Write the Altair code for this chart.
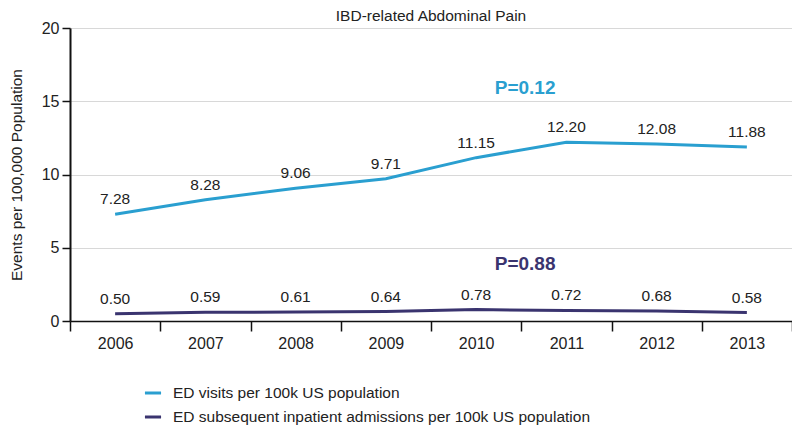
import altair as alt
import pandas as pd

years = ["2006", "2007", "2008", "2009", "2010", "2011", "2012", "2013"]
ed_visits = [7.28, 8.28, 9.06, 9.71, 11.15, 12.20, 12.08, 11.88]
inpatient = [0.50, 0.59, 0.61, 0.64, 0.78, 0.72, 0.68, 0.58]
series_names = ["ED visits per 100k US population",
                "ED subsequent inpatient admissions per 100k US population"]
colors = ["#2a9fd0", "#3a346f"]
p_labels = ["P=0.12", "P=0.88"]
p_years = ["2010", "2010"]
p_values = [15.9, 3.9]

rows = []
for y, v in zip(years, ed_visits):
    rows.append({"year": y, "value": v, "series": series_names[0], "label": f"{v:.2f}"})
for y, v in zip(years, inpatient):
    rows.append({"year": y, "value": v, "series": series_names[1], "label": f"{v:.2f}"})
df = pd.DataFrame(rows)

pdf = pd.DataFrame({"year": p_years, "value": p_values, "label": p_labels, "series": series_names})

FONT = "Liberation Sans"

x = alt.X("year:O", title=None, sort=years,
          scale=alt.Scale(paddingInner=0, paddingOuter=0),
          axis=alt.Axis(labelAngle=0, labelFontSize=16, labelFont=FONT, labelColor="#222",
                        tickBand="extent", tickSize=10, tickColor="#111", tickWidth=1.5,
                        domainColor="#111", domainWidth=1.5, labelPadding=4, grid=False))
y = alt.Y("value:Q", title="Events per 100,000 Population",
          scale=alt.Scale(domain=[0, 20], nice=False),
          axis=alt.Axis(values=[0, 5, 10, 15, 20], labelFontSize=16, labelFont=FONT,
                        labelColor="#222", titleFont=FONT, titleFontSize=15.5,
                        titleFontWeight="normal", titleColor="#222", titlePadding=17,
                        tickSize=8, tickColor="#111", tickWidth=1.5,
                        domainColor="#111", domainWidth=2, labelPadding=3,
                        grid=True, gridColor="#d8d8d8", gridWidth=1))

color = alt.Color("series:N", sort=series_names,
                  scale=alt.Scale(domain=series_names, range=colors),
                  legend=alt.Legend(title=None, orient="none", legendX=73, legendY=355,
                                    symbolType="stroke", symbolStrokeWidth=3,
                                    symbolSize=260, labelFontSize=15.5, labelFont=FONT,
                                    labelColor="#222", rowPadding=5, labelOffset=10,
                                    labelLimit=0))

lines = alt.Chart(df).mark_line(strokeWidth=3).encode(x=x, y=y, color=color)

labels = alt.Chart(df).mark_text(dy=-15, fontSize=15.5, font=FONT, color="#222").encode(
    x=alt.X("year:O", sort=years), y="value:Q", text="label:N")

ptext = alt.Chart(pdf).mark_text(dx=49, fontSize=19, font=FONT, fontWeight="bold").encode(
    x=alt.X("year:O", sort=years), y="value:Q", text="label:N",
    color=alt.Color("series:N", scale=alt.Scale(domain=series_names, range=colors), legend=None))

chart = alt.layer(lines, labels, ptext).properties(
    width=722, height=293,
    title=alt.TitleParams("IBD-related Abdominal Pain", fontSize=15.5, font=FONT,
                          fontWeight="normal", color="#222", offset=-4, anchor="middle"),
    autosize=alt.AutoSizeParams(type="none"),
    padding={"left": 62, "top": 20, "right": 0, "bottom": 104},
).configure_view(stroke=None)

chart.save("out.html", embed_options={"renderer": "svg", "actions": False})
